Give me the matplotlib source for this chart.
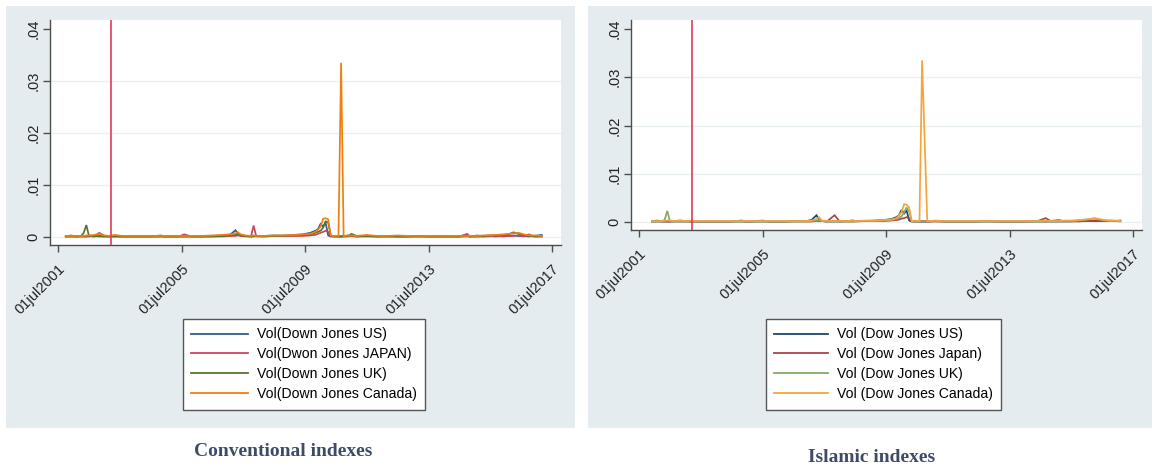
import matplotlib
matplotlib.use("Agg")
import matplotlib.pyplot as plt
import matplotlib.dates as mdates
import pandas as pd
from matplotlib.patches import Rectangle

plt.rcParams['font.family'] = ['Liberation Sans', 'DejaVu Sans']

# Volatility values are stored in units of 1e-4
SCALE = 1e-4

conv_dates = [
    "2001-10", "2001-12", "2002-02", "2002-04", "2002-05", "2002-06", "2002-07", "2002-09",
    "2002-11", "2003-01", "2003-03", "2003-05", "2003-08", "2003-11", "2004-03", "2004-07",
    "2004-11", "2004-12", "2005-02", "2005-06", "2005-08", "2005-11", "2006-03", "2006-07",
    "2006-11", "2007-02", "2007-04", "2007-05", "2007-06", "2007-08", "2007-10", "2007-11",
    "2007-12", "2008-03", "2008-07", "2008-11", "2009-03", "2009-06", "2009-09", "2009-11",
    "2009-12", "2010-01", "2010-02", "2010-03", "2010-04", "2010-05", "2010-06", "2010-07",
    "2010-08", "2010-09", "2010-10", "2010-12", "2011-01", "2011-03", "2011-07", "2011-11",
    "2012-03", "2012-07", "2012-11", "2013-03", "2013-07", "2013-11", "2014-03", "2014-07",
    "2014-10", "2014-11", "2015-02", "2015-04", "2015-06", "2015-09", "2015-12", "2016-02",
    "2016-04", "2016-06", "2016-08", "2016-10", "2016-12", "2017-03",
]
conv_us = [
    1, 1, 1, 1, 1, 1, 1, 2, 1, 1, 1, 1, 1, 1, 1, 1, 1, 1, 1, 1, 1, 1, 1, 2,
    3, 5, 13, 6, 3, 2, 1, 1, 2, 2, 3, 2, 4, 5, 8, 12, 15, 25, 20, 28, 3, 1,
    1, 1, 1, 1, 1, 2, 2, 1, 2, 1, 1, 1, 1, 1, 1, 1, 1, 1, 2, 1, 1, 1, 2, 1,
    2, 2, 3, 2, 2, 1, 2, 4,
]
conv_japan = [
    1, 3, 1, 1, 1, 1, 2, 1, 8, 2, 1, 2, 1, 1, 1, 1, 3, 1, 1, 1, 5, 1, 1, 1,
    1, 2, 2, 3, 2, 1, 1, 22, 2, 1, 2, 2, 2, 2, 3, 4, 6, 8, 10, 12, 10, 2,
    1, 1, 1, 1, 1, 1, 2, 1, 1, 1, 2, 1, 1, 2, 1, 1, 1, 1, 6, 1, 3, 1, 1, 2,
    1, 2, 2, 3, 1, 5, 1, 1,
]
conv_uk = [
    1, 1, 1, 2, 8, 23, 3, 1, 2, 1, 1, 1, 1, 1, 1, 1, 1, 1, 1, 1, 1, 1, 1, 1,
    2, 3, 4, 5, 3, 2, 1, 2, 1, 1, 2, 3, 3, 4, 5, 8, 10, 12, 18, 30, 28, 3,
    2, 1, 1, 1, 2, 3, 6, 2, 2, 1, 1, 1, 1, 1, 1, 1, 1, 1, 1, 1, 1, 2, 3, 3,
    4, 5, 9, 6, 4, 2, 1, 1,
]
conv_canada = [
    2, 2, 2, 2, 2, 3, 3, 4, 6, 3, 2, 4, 2, 2, 2, 2, 2, 2, 2, 2, 2, 2, 2, 3,
    4, 5, 7, 9, 5, 3, 2, 3, 2, 2, 3, 3, 4, 5, 6, 10, 14, 20, 35, 36, 34, 3,
    2, 2, 2, 335, 2, 3, 3, 2, 4, 2, 2, 3, 2, 2, 2, 2, 2, 2, 2, 2, 2, 3, 3, 4,
    5, 6, 7, 8, 5, 3, 3, 2,
]

isl_dates = [
    "2001-12", "2002-02", "2002-04", "2002-05", "2002-06", "2002-07", "2002-09", "2002-11",
    "2003-01", "2003-03", "2003-05", "2003-08", "2003-11", "2004-03", "2004-07", "2004-11",
    "2004-12", "2005-03", "2005-07", "2005-09", "2005-12", "2006-04", "2006-08", "2006-12",
    "2007-02", "2007-04", "2007-05", "2007-06", "2007-08", "2007-11", "2008-01", "2008-04",
    "2008-06", "2008-07", "2008-11", "2009-03", "2009-06", "2009-09", "2009-11", "2009-12",
    "2010-01", "2010-02", "2010-03", "2010-04", "2010-05", "2010-06", "2010-07", "2010-08",
    "2010-09", "2010-11", "2010-12", "2011-02", "2011-06", "2011-10", "2012-02", "2012-06",
    "2012-10", "2013-02", "2013-06", "2013-10", "2014-02", "2014-06", "2014-09", "2014-11",
    "2015-02", "2015-04", "2015-07", "2015-10", "2015-12", "2016-02", "2016-04", "2016-06",
    "2016-08", "2016-10", "2016-12", "2017-02",
]
isl_us = [
    1, 1, 1, 1, 1, 1, 1, 1, 1, 1, 1, 1, 1, 1, 1, 1, 1, 1, 1, 1, 1, 1, 2, 2,
    4, 14, 4, 2, 1, 1, 1, 2, 3, 2, 2, 3, 4, 6, 10, 14, 25, 18, 24, 3, 1, 1,
    1, 1, 1, 1, 1, 2, 1, 1, 1, 1, 1, 1, 1, 1, 1, 1, 1, 1, 1, 1, 1, 2, 2, 2,
    2, 2, 2, 2, 2, 3,
]
isl_japan = [
    2, 3, 1, 1, 1, 1, 2, 3, 2, 1, 1, 1, 1, 1, 1, 3, 1, 1, 3, 1, 1, 1, 1, 1,
    1, 2, 2, 2, 1, 14, 1, 1, 1, 1, 2, 2, 2, 3, 4, 5, 7, 8, 10, 8, 2, 1,
    1, 1, 1, 1, 1, 1, 1, 1, 1, 1, 2, 1, 1, 1, 1, 2, 8, 2, 4, 2, 2, 1, 2, 2,
    3, 2, 2, 3, 2, 2,
]
isl_uk = [
    1, 1, 1, 5, 23, 2, 1, 1, 1, 1, 1, 1, 1, 1, 1, 1, 1, 1, 1, 1, 1, 1, 1, 1,
    2, 3, 4, 2, 1, 1, 1, 1, 1, 2, 2, 2, 3, 4, 6, 8, 12, 20, 30, 22, 2, 1,
    1, 1, 1, 2, 1, 2, 1, 1, 1, 1, 1, 1, 1, 1, 1, 1, 1, 1, 1, 2, 2, 3, 4, 6,
    7, 5, 3, 2, 2, 1,
]
isl_canada = [
    2, 2, 2, 2, 3, 3, 2, 3, 2, 3, 2, 2, 2, 2, 2, 2, 2, 2, 2, 2, 2, 2, 2, 2,
    3, 6, 10, 3, 2, 2, 2, 2, 3, 2, 3, 3, 4, 5, 8, 14, 20, 37, 36, 30, 2, 2,
    2, 2, 335, 2, 2, 3, 2, 2, 2, 2, 2, 2, 2, 2, 2, 2, 3, 2, 2, 3, 3, 4, 5, 6,
    8, 6, 4, 3, 3, 2,
]

conv_labels = ["Vol(Down Jones US)", "Vol(Dwon Jones JAPAN)",
               "Vol(Down Jones UK)", "Vol(Down Jones Canada)"]
isl_labels = ["Vol (Dow Jones US)", "Vol (Dow Jones Japan)",
              "Vol (Dow Jones UK)", "Vol (Dow Jones Canada)"]

event_date = "2003-03-20"
tick_dates = ["2001-07-01", "2005-07-01", "2009-07-01", "2013-07-01", "2017-07-01"]
tick_labels = ["01jul2001", "01jul2005", "01jul2009", "01jul2013", "01jul2017"]
y_ticks = [0, 0.01, 0.02, 0.03, 0.04]
y_labels = ["0", ".01", ".02", ".03", ".04"]

conv_colors = ["#2f5c8c", "#c8465c", "#55752f", "#f07f10"]
isl_colors = ["#1a476f", "#a8454a", "#86a866", "#f8a43c"]

W, H = 1156, 466
BG = "#e5ecef"
GRID = "#e9f0f2"
AXIS = "#4d4d4d"


def fx(px):
    return px / W


def fy(py):
    return 1 - py / H


fig = plt.figure(figsize=(W / 100, H / 100), dpi=100)
fig.patch.set_facecolor("white")


def panel(bg_box, ax_box, ylim, dates, series, colors, labels, leg_xy,
          handlelen, caption, cap_xy):
    x0, y0, x1, y1 = bg_box
    fig.patches.append(Rectangle((fx(x0), fy(y1)), fx(x1 - x0), (y1 - y0) / H,
                                 transform=fig.transFigure, facecolor=BG,
                                 edgecolor="none", zorder=-10))
    a0, b0, a1, b1 = ax_box
    ax = fig.add_axes([fx(a0), fy(b1), fx(a1 - a0), (b1 - b0) / H])
    ax.set_zorder(2)
    ax.set_facecolor("white")
    t = pd.to_datetime(dates, format="%Y-%m")
    handles = []
    for vals, c, lab in zip(series, colors, labels):
        h, = ax.plot(t, [v * SCALE for v in vals], color=c, lw=1.25, label=lab,
                     zorder=3, solid_joinstyle="miter")
        handles.append(h)
    ax.axvline(pd.Timestamp(event_date), color="#e33a5c", lw=1.2, zorder=4)
    for yv in y_ticks[:-1]:
        ax.axhline(yv, color=GRID, lw=1.0, zorder=1)

    # date axis: 2001-07-01 sits 8 px right of the left edge
    t0 = mdates.date2num(pd.Timestamp(tick_dates[0]))
    t1 = mdates.date2num(pd.Timestamp(tick_dates[-1]))
    dpp = (t1 - t0) / 494.0
    ax.set_xlim(t0 - 8 * dpp, t1 + 9 * dpp)
    ax.set_ylim(*ylim)

    ax.set_xticks([mdates.date2num(pd.Timestamp(d)) for d in tick_dates])
    ax.set_xticklabels(tick_labels, rotation=45, ha="right", va="top",
                       rotation_mode="anchor", fontsize=10.5, color="#222222")
    ax.set_yticks(y_ticks)
    ax.set_yticklabels(y_labels, rotation=90, va="center", fontsize=10.5,
                       color="#222222")
    ax.tick_params(axis="both", length=5, width=1, color=AXIS)
    ax.tick_params(axis="y", pad=2)
    ax.tick_params(axis="x", pad=7)
    for s in ("top", "right"):
        ax.spines[s].set_visible(False)
    for s in ("left", "bottom"):
        ax.spines[s].set_color(AXIS)
        ax.spines[s].set_linewidth(1.0)

    leg = fig.legend(handles=handles, loc="upper left",
                     bbox_to_anchor=(fx(leg_xy[0]), fy(leg_xy[1])),
                     bbox_transform=fig.transFigure, borderaxespad=0,
                     fontsize=10.1, frameon=True, fancybox=False,
                     framealpha=1, edgecolor="#555555", facecolor="white",
                     handlelength=handlelen, handletextpad=0.65,
                     labelspacing=0.42, borderpad=0.6)
    leg.set_zorder(5)
    leg.get_frame().set_linewidth(1.0)
    for ln in leg.get_lines():
        ln.set_linewidth(1.3)

    fig.text(fx(cap_xy[0]), fy(cap_xy[1]), caption, ha="center", va="center",
             fontsize=14, fontweight="bold", color="#3d4b69",
             family=["Liberation Serif", "DejaVu Serif"])
    return ax


panel((6, 6, 575, 428), (50, 20, 561, 245), (-0.00154, 0.04173),
      conv_dates, [conv_us, conv_japan, conv_uk, conv_canada],
      conv_colors, conv_labels, (183, 319), 4.0,
      "Conventional indexes", (283, 452))

panel((588, 6, 1152, 428), (631, 20, 1142, 230), (-0.00166, 0.04187),
      isl_dates, [isl_us, isl_japan, isl_uk, isl_canada],
      isl_colors, isl_labels, (766, 319), 3.8,
      "Islamic indexes", (872, 457))

fig.savefig("out.png", dpi=100, facecolor="white")
